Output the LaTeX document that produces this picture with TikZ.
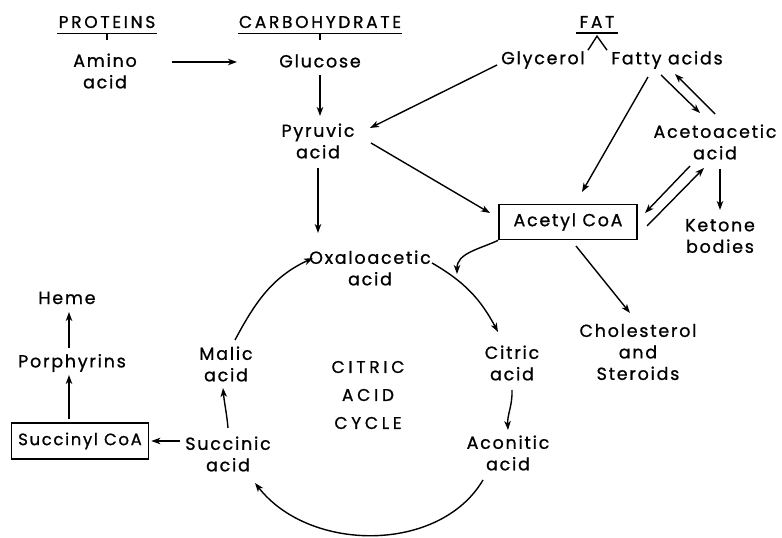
\documentclass[tikz,border=0pt]{standalone}
\usepackage{fontspec}
\setmainfont{Poppins}[LetterSpace=10, FakeBold=0.9]
\newfontfamily\capsfont{Poppins}[LetterSpace=22, FakeBold=0.9]
\newfontfamily\hdrfont{Poppins}[LetterSpace=16, FakeBold=0.9]
\usetikzlibrary{arrows.meta,calc}
\begin{document}
\begin{tikzpicture}[x=1pt,y=1pt,
  lbl/.style={font=\fontsize{17.5}{21.5}\selectfont, align=center, inner sep=0pt},
  hdr/.style={font=\hdrfont\fontsize{17}{20}\selectfont, inner sep=0pt},
  cyc/.style={font=\capsfont\fontsize{17}{28}\selectfont, align=center, inner sep=0pt},
  boxn/.style={draw, line width=1.7pt, inner sep=0pt},
  arr/.style={line width=1.4pt, -{Stealth[length=9pt,width=6.5pt,inset=2.5pt]}},
  ln/.style={line width=1.4pt}]
\useasboundingbox (0,0) rectangle (782,538);
% nodes
\node[hdr] (prot) at (107,516) {PROTEINS};
\node[hdr] (carb) at (320,516) {CARBOHYDRATE};
\node[hdr] (fat) at (597,516) {FAT};
\node[lbl] (ami) at (105,467) {Amino\\acid};
\node[lbl] (glu) at (320,477) {Glucose};
\node[lbl] (pyr) at (318,397) {Pyruvic\\acid};
\node[lbl] (gly) at (543,478) {Glycerol};
\node[lbl] (fatty) at (667,478) {Fatty acids};
\node[lbl] (aceto) at (715,396) {Acetoacetic\\acid};
\node[lbl] (ket) at (720,302) {Ketone\\bodies};
\node[boxn, font=\fontsize{17.5}{20}\selectfont, minimum width=138pt, minimum height=35pt] (acoa) at (568,316) {Acetyl CoA};
\node[lbl] (chol) at (638,186) {Cholesterol\\and\\Steroids};
\node[lbl] (oxa) at (370,270) {Oxaloacetic\\acid};
\node[lbl] (cit) at (512,175) {Citric\\acid};
\node[lbl] (aco) at (508,85) {Aconitic\\acid};
\node[lbl] (suc) at (228,84) {Succinic\\acid};
\node[lbl] (mal) at (226,174) {Malic\\acid};
\node[cyc] (cycle) at (368,143) {CITRIC\\ACID\\CYCLE};
\node[boxn, font=\fontsize{16.5}{20}\selectfont, minimum width=137pt, minimum height=36pt] (scoa) at (80,97) {Succinyl CoA};
\node[lbl] (por) at (72,175) {Porphyrins};
\node[lbl] (hem) at (67,240) {Heme};
% heading rules
\draw[ln] ($(prot.south west)+(-1,-5)$) -- ($(prot.south east)+(1,-5)$);
\draw[ln] ($(prot.south)+(0,-5)$) -- ++(0,-7);
\draw[ln] ($(carb.south west)+(-1,-5)$) -- ($(carb.south east)+(1,-5)$);
\draw[ln] ($(carb.south)+(0,-5)$) -- ++(0,-7);
\draw[ln] ($(fat.south west)+(-3,-5)$) -- ($(fat.south east)+(3,-5)$);
\draw[ln] ($(fat.south)+(-9,-22)$) -- ($(fat.south)+(0,-8)$) -- ($(fat.south)+(10,-22)$);
% connectors
\draw[arr] ($(ami)+(67,9)$) -- ($(glu)+(-83,-1)$);
\draw[arr] ($(glu)+(0,-14)$) -- ($(pyr)+(2,25)$);
\draw[arr] ($(gly)+(-46,-5)$) -- ($(pyr)+(52,13)$);
\draw[arr] ($(pyr)+(53,-2)$) -- ($(acoa)+(-78,9)$);
\draw[arr] ($(pyr)+(0,-27)$) -- ($(oxa)+(-52,35)$);
\draw[arr] ($(fatty)+(-19,-17)$) -- ($(acoa)+(14,30)$);
\draw[arr] ($(fatty)+(-6,-15)$) -- ($(aceto)+(-15,29)$);
\draw[arr] ($(aceto)+(0,28)$) -- ($(fatty)+(8,-14)$);
\draw[arr] ($(aceto)+(-25,-24)$) -- ($(acoa)+(77,9)$);
\draw[arr] ($(acoa)+(79,-4)$) -- ($(aceto)+(-11,-26)$);
\draw[arr] ($(aceto)+(5,-27)$) -- ($(ket)+(0,26)$);
\draw[arr] ($(acoa)+(8,-24)$) -- ($(chol)+(-8,39)$);
\draw[arr] (acoa.south west) to[out=205,in=90] ($(oxa)+(87,-6)$);
\draw[arr] ($(oxa)+(62,5)$) to[out=-30,in=118] ($(cit)+(-14,31)$);
\draw[arr] ($(cit)+(0,-27)$) to[out=-88,in=93] ($(aco)+(0,23)$);
\draw[arr] ($(aco)+(-25,-27)$) .. controls (440,-15) and (310,-15) .. ($(suc)+(27,-29)$);
\draw[arr] ($(suc)+(0,26)$) to[out=95,in=-85] ($(mal)+(-3,-24)$);
\draw[arr] ($(mal)+(9,24)$) to[out=62,in=205] ($(oxa)+(-57,10)$);
\draw[arr] ($(suc)+(-48,13)$) -- ($(scoa.east)+(2,0)$);
\draw[arr] ($(scoa.north)+(-11,3)$) -- ($(por)+(-3,-12)$);
\draw[arr] ($(por)+(-3,15)$) -- ($(hem)+(2,-14)$);
\end{tikzpicture}
\end{document}
